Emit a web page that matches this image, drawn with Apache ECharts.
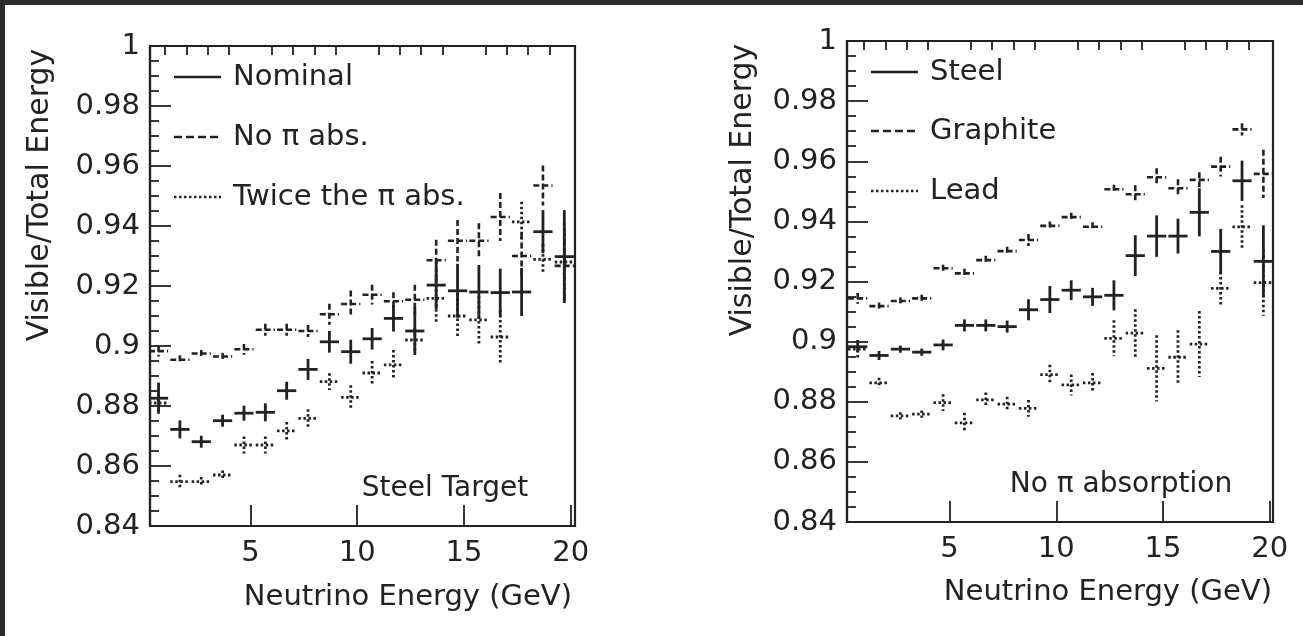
<!DOCTYPE html>
<html>
<head>
<meta charset="utf-8">
<title>Visible/Total Energy</title>
<script src="https://cdn.jsdelivr.net/npm/echarts@6/dist/echarts.min.js"></script>
<style>
  html, body { margin: 0; padding: 0; background: #fff; }
  #chart { width: 1303px; height: 636px; }
</style>
</head>
<body>
<div id="chart"></div>
<script>
// bin centres (GeV), same for every series
const energy = [0.7, 1.7, 2.7, 3.7, 4.7, 5.7, 6.7, 7.7, 8.7, 9.7,
  10.7, 11.7, 12.7, 13.7, 14.7, 15.7, 16.7, 17.7, 18.7, 19.7];
const binHalf = 0.45;

// steel target, nominal
const nominal = [0.8826, 0.8722, 0.8681, 0.8751, 0.8776, 0.8779, 0.8851, 0.8922, 0.9014, 0.8981,
  0.9024, 0.9092, 0.905, 0.9203, 0.9184, 0.918, 0.9178, 0.918, 0.9381, 0.9298];
const nominalErr = [0.0052, 0.003, 0.002, 0.002, 0.0025, 0.003, 0.003, 0.0035, 0.0036, 0.004,
  0.0036, 0.0044, 0.008, 0.008, 0.009, 0.009, 0.008, 0.008, 0.0072, 0.0155];

// steel, no pi absorption (also the "Steel" curve of the right panel)
const noAbs = [0.8983, 0.8954, 0.8975, 0.8965, 0.8989, 0.9054, 0.9054, 0.905, 0.9106, 0.914,
  0.9171, 0.9149, 0.9154, 0.9286, 0.9351, 0.9351, 0.943, 0.930, 0.9535, 0.9267];
const noAbsErr = [0.0018, 0.0015, 0.0012, 0.0012, 0.0018, 0.002, 0.002, 0.002, 0.0035, 0.0045,
  0.0033, 0.003, 0.005, 0.0068, 0.0069, 0.0058, 0.008, 0.0075, 0.0067, 0.012];

// steel, twice the pi absorption
const twiceAbs = [0.881, 0.8548, 0.8548, 0.857, 0.867, 0.867, 0.8717, 0.8759, 0.8881, 0.8829,
  0.891, 0.8937, 0.902, 0.9159, 0.910, 0.9087, 0.903, 0.9414, 0.9289, 0.928];
const twiceAbsErr = [0.003, 0.0023, 0.0015, 0.0015, 0.0028, 0.0028, 0.003, 0.003, 0.0028, 0.004,
  0.004, 0.005, 0.004, 0.008, 0.0075, 0.008, 0.009, 0.0067, 0.005, 0.013];

// no pi absorption, other targets
const graphite = [0.9144, 0.9118, 0.9135, 0.9144, 0.9244, 0.9227, 0.9271, 0.9301, 0.9338, 0.9385,
  0.9414, 0.9382, 0.9507, 0.949, 0.9547, 0.951, 0.9538, 0.9582, 0.9706, 0.9558];
const graphiteErr = [0.0018, 0.0012, 0.0012, 0.0012, 0.0012, 0.0015, 0.0015, 0.0015, 0.002, 0.0015,
  0.0015, 0.0015, 0.0015, 0.003, 0.003, 0.003, 0.0025, 0.0033, 0.002, 0.008];

const lead = [0.8975, 0.8863, 0.8753, 0.8759, 0.8797, 0.873, 0.8806, 0.8792, 0.8778, 0.889,
  0.8856, 0.8863, 0.9011, 0.9028, 0.8911, 0.8948, 0.8992, 0.9177, 0.9382, 0.9196];
const leadErr = [0.003, 0.0017, 0.0012, 0.0012, 0.0028, 0.0033, 0.0025, 0.0025, 0.0028, 0.0033,
  0.0035, 0.0033, 0.006, 0.008, 0.011, 0.009, 0.011, 0.0055, 0.0072, 0.011];

const xMajor = [5, 10, 15, 20];
const xMinor = [1, 2, 3, 4, 6, 7, 8, 9, 11, 12, 13, 14, 16, 17, 18, 19];

const INK = "#222";
const FONT = "DejaVu Sans";

const styles = {
  solid: { lineWidth: 2.8, lineDash: null },
  dashed: { lineWidth: 2.6, lineDash: [6, 3] },
  dotted: { lineWidth: 2.8, lineDash: [2.5, 2.5] },
};

function points(vals, errs) {
  return energy.map((e, i) => [e, vals[i], errs[i], binHalf]);
}

// horizontal bar = bin width, vertical bar = error
function crossRender(kind) {
  const s = styles[kind];
  return function (params, api) {
    const x = api.value(0), y = api.value(1), ey = api.value(2), ex = api.value(3);
    const l = api.coord([x - ex, y]), r = api.coord([x + ex, y]);
    const t = api.coord([x, y + ey]), b = api.coord([x, y - ey]);
    const style = { stroke: INK, lineWidth: s.lineWidth, lineDash: s.lineDash };
    return {
      type: "group",
      children: [
        { type: "line", shape: { x1: l[0], y1: l[1], x2: r[0], y2: r[1] }, style },
        { type: "line", shape: { x1: t[0], y1: t[1], x2: b[0], y2: b[1] }, style },
      ],
    };
  };
}

function errSeries(name, vals, errs, kind, panel) {
  return {
    name,
    type: "custom",
    xAxisIndex: panel * 2,
    yAxisIndex: panel,
    clip: true,
    renderItem: crossRender(kind),
    encode: { x: 0, y: 1 },
    data: points(vals, errs),
    z: 3,
  };
}

function xAxes(grid, min, max) {
  return [
    {
      type: "value", gridIndex: grid, min, max,
      splitLine: { show: false },
      axisLine: { lineStyle: { color: INK, width: 2.2 } },
      axisTick: { inside: true, length: 21, customValues: xMajor, lineStyle: { color: INK, width: 1.8 } },
      axisLabel: { customValues: xMajor, color: INK, fontSize: 29, fontFamily: FONT, margin: 13 },
    },
    {
      type: "value", gridIndex: grid, min, max,
      splitLine: { show: false },
      axisLine: { show: false },
      axisTick: { inside: true, length: 9, customValues: xMinor, lineStyle: { color: INK, width: 1.8 } },
      axisLabel: { show: false },
    },
  ];
}

function yAxis(grid) {
  return {
    type: "value", gridIndex: grid, min: 0.84, max: 1, interval: 0.02,
    splitLine: { show: false },
    axisLine: { lineStyle: { color: INK, width: 2.2 } },
    axisTick: { inside: true, length: 21, lineStyle: { color: INK, width: 1.8 } },
    minorTick: { show: true, splitNumber: 4, length: 9, lineStyle: { color: INK, width: 1.8 } },
    axisLabel: {
      color: INK, fontSize: 29, fontFamily: FONT, margin: 10,
      formatter: (v) => String(+v.toFixed(2)),
    },
  };
}

function text(x, y, str, align, size, extra) {
  return Object.assign({
    type: "text", x, y,
    style: { text: str, fill: INK, font: size + "px '" + FONT + "'", align, verticalAlign: "middle" },
    z: 10,
  }, extra || {});
}

function legendRow(x0, y, kind, label) {
  const s = styles[kind];
  return [
    { type: "line", shape: { x1: x0, y1: y, x2: x0 + 47, y2: y },
      style: { stroke: INK, lineWidth: 2.6, lineDash: kind === "dashed" ? [8, 4] : s.lineDash }, z: 10 },
    text(x0 + 59, y, label, "left", 29),
  ];
}

const chart = echarts.init(document.getElementById("chart"));

chart.setOption({
  animation: false,
  backgroundColor: "#fff",
  grid: [
    { left: 150, top: 46, width: 425, height: 480, show: true, borderColor: INK, borderWidth: 2.2 },
    { left: 847, top: 41, width: 426, height: 481, show: true, borderColor: INK, borderWidth: 2.2 },
  ],
  xAxis: [...xAxes(0, 0.3, 20.2), ...xAxes(1, 0.2, 20.15)],
  yAxis: [yAxis(0), yAxis(1)],
  series: [
    errSeries("Nominal", nominal, nominalErr, "solid", 0),
    errSeries("No π abs.", noAbs, noAbsErr, "dashed", 0),
    errSeries("Twice the π abs.", twiceAbs, twiceAbsErr, "dotted", 0),
    errSeries("Steel", noAbs, noAbsErr, "solid", 1),
    errSeries("Graphite", graphite, graphiteErr, "dashed", 1),
    errSeries("Lead", lead, leadErr, "dotted", 1),
  ],
  graphic: [
    // dark frame of the screenshot
    { type: "rect", shape: { x: 0, y: 0, width: 1303, height: 5 }, style: { fill: "#2b2b2b" }, z: 20 },
    { type: "rect", shape: { x: 0, y: 0, width: 5, height: 636 }, style: { fill: "#2b2b2b" }, z: 20 },

    ...legendRow(174, 77, "solid", "Nominal"),
    ...legendRow(174, 137, "dashed", "No π abs."),
    ...legendRow(174, 197, "dotted", "Twice the π abs."),
    ...legendRow(871, 72, "solid", "Steel"),
    ...legendRow(871, 131, "dashed", "Graphite"),
    ...legendRow(871, 191, "dotted", "Lead"),

    text(445, 489, "Steel Target", "center", 28),
    text(1121, 485, "No π absorption", "center", 28),

    text(572, 597, "Neutrino Energy (GeV)", "right", 29),
    text(1272, 592, "Neutrino Energy (GeV)", "right", 29),
    text(40, 195, "Visible/Total Energy", "center", 30, { rotation: Math.PI / 2 }),
    text(743, 190, "Visible/Total Energy", "center", 30, { rotation: Math.PI / 2 }),
  ],
});
</script>
</body>
</html>
